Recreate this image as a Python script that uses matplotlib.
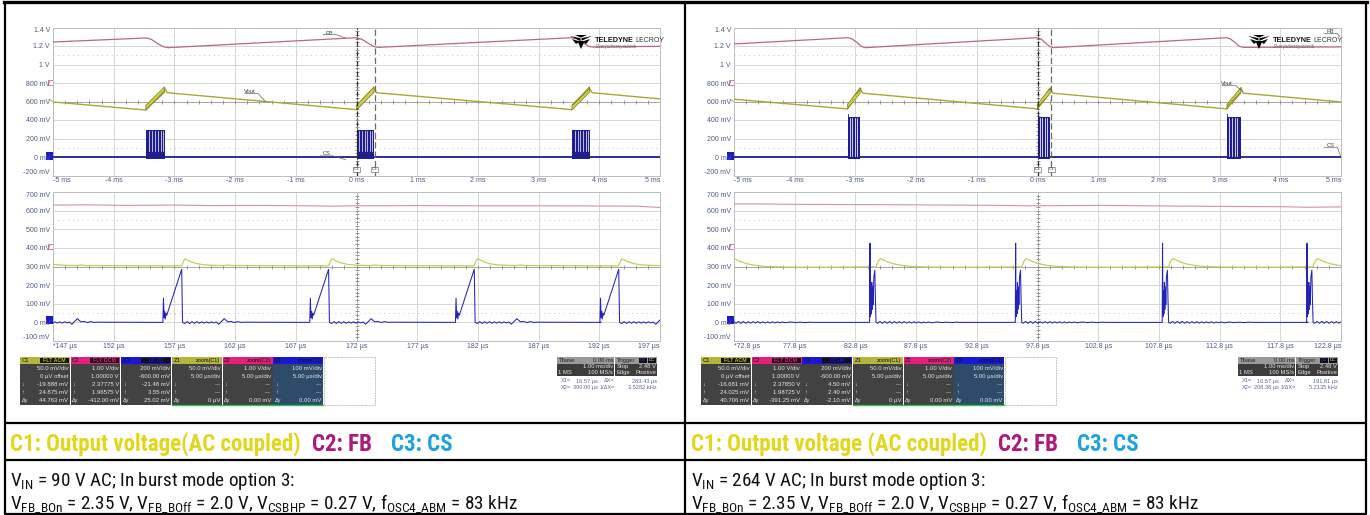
import numpy as np
import matplotlib
matplotlib.use('Agg')
import matplotlib.pyplot as plt
from matplotlib.patches import Rectangle, Polygon
from matplotlib import font_manager as fm

# ================= DATA =================
# --- top (1 ms/div) panels: time in ms, voltage in V (display scale) ---
L_FB_T = [-5.0, -3.46, -3.38, -3.28, -3.18, -3.10, 0.0, 0.08, 0.18, 0.28, 0.36, 3.55, 3.63, 3.73, 3.83, 3.91, 5.0]
L_FB_V = [1.243, 1.287, 1.272, 1.228, 1.192, 1.182, 1.290, 1.275, 1.235, 1.195, 1.185, 1.290, 1.275, 1.235, 1.195, 1.188, 1.197]
L_VO_T = [-5.0, -3.47, -3.16, -3.12, 0.0, 0.29, 0.33, 3.55, 3.84, 3.88, 5.0]
L_VO_V = [0.595, 0.508, 0.745, 0.695, 0.512, 0.745, 0.695, 0.512, 0.745, 0.695, 0.628]
L_BURST_ON = [-3.47, 0.0, 3.55]
L_BURST_OFF = [-3.16, 0.29, 3.84]
L_BAND_LO = [0.508, 0.700]
L_BAND_HI = [0.560, 0.760]
L_CS_TOP = 0.29
L_CS_GAPS = [0.17, 0.33, 0.47, 0.62, 0.78, 0.90]

R_FB_T = [-5.0, -3.12, -3.05, -2.97, -2.90, -2.84, 0.0, 0.06, 0.13, 0.20, 0.26, 3.12, 3.18, 3.26, 3.33, 3.40, 5.0]
R_FB_V = [1.222, 1.290, 1.275, 1.235, 1.195, 1.182, 1.290, 1.275, 1.235, 1.195, 1.182, 1.290, 1.275, 1.235, 1.195, 1.185, 1.190]
R_VO_T = [-5.0, -3.13, -2.92, -2.88, 0.0, 0.21, 0.25, 3.12, 3.35, 3.39, 5.0]
R_VO_V = [0.625, 0.520, 0.745, 0.690, 0.520, 0.745, 0.690, 0.520, 0.750, 0.690, 0.595]
R_BURST_ON = [-3.13, 0.0, 3.12]
R_BURST_OFF = [-2.92, 0.21, 3.35]
R_BAND_LO = [0.520, 0.690]
R_BAND_HI = [0.570, 0.750]
R_CS_TOP = 0.43
R_CS_GAPS = [0.16, 0.36, 0.56, 0.76]

# --- zoom (5 us/div) panels: time in us, voltage in mV ---
L_Z_FB_T = [147, 150, 153, 157, 160, 164, 168, 170, 172, 177, 182, 187, 192, 195, 197]
L_Z_FB_V = [630, 631, 628, 630, 627, 628, 626, 624, 626, 627, 626, 626, 625, 624, 617]
L_Z_START = [144.0, 156.1, 168.2, 180.2, 192.1]
L_CS_TPL_T = [-0.05, 0.00, 0.05, 0.10, 0.15, 0.20, 0.27, 1.50, 1.57, 1.75, 1.95, 2.15, 2.35, 2.55, 2.75, 2.95,
              3.15, 3.35, 3.55, 3.75, 3.95, 4.15, 4.35, 4.55, 4.80, 5.00, 5.30, 5.55, 5.85, 6.10, 6.40, 6.70, 11.95]
L_CS_TPL_V = [0, 130, 25, 60, 18, 50, 38, 285, 0, -6, 4, -6, 4, -5, 4, -5,
              3, -4, 3, -4, 3, -3, 2, -10, 6, 20, 3, 5, -1, 4, 0, 1, 0]
L_VO_TPL_T = [-0.05, 1.50, 1.62, 1.75, 1.95, 2.25, 2.70, 3.30, 4.20, 5.00, 5.30, 5.70, 11.95]
L_VO_TPL_V = [304, 304, 325, 340, 336, 326, 316, 309, 306, 305, 308, 305, 304]

R_Z_FB_T = [72.8, 75, 77, 80, 85, 90, 95, 97, 100, 103, 107, 110, 115, 118, 120, 122.8]
R_Z_FB_V = [636, 636, 634, 633, 632, 630, 628, 626, 627, 628, 626, 624, 622, 621, 618, 620]
R_Z_START = [71.95, 84.0, 96.0, 108.1, 120.0]
R_CS_TPL_T = [-0.03, 0.00, 0.03, 0.07, 0.11, 0.15, 0.19, 0.23, 0.27, 0.32, 0.40, 0.45, 0.50, 0.62, 0.82,
              1.02, 1.22, 1.42, 1.62, 1.82, 2.02, 2.22, 2.42, 2.62, 2.82, 3.02, 3.22, 3.42, 3.62, 3.82,
              4.02, 4.22, 4.42, 4.62, 4.82, 5.10, 5.50, 5.90, 6.30, 6.70, 7.10, 7.50, 8.00, 11.97]
R_CS_TPL_V = [0, 425, 30, 170, 45, 215, 70, 190, 95, 245, 280, 120, 0, -5, 5,
              -5, 5, -5, 5, -5, 4, -4, 4, -4, 4, -4, 3, -3, 3, -3,
              3, -3, 2, -2, 2, -2, 2, -1, 1, -1, 1, 0, 0, 0]
R_VO_TPL_T = [-0.05, 0.50, 0.65, 0.85, 1.05, 1.40, 1.90, 2.60, 3.50, 5.00, 8.00, 11.95]
R_VO_TPL_V = [298, 298, 325, 342, 337, 326, 315, 306, 300, 297, 296, 298]

# --- axis tick labels ---
TOP_X_LABELS = ['-5 ms', '-4 ms', '-3 ms', '-2 ms', '-1 ms', '0 ms', '1 ms', '2 ms', '3 ms', '4 ms', '5 ms']
TOP_Y_LABELS = ['-200 mV', '0 mV', '200 mV', '400 mV', '600 mV', '800 mV', '1 V', '1.2 V', '1.4 V']
ZOOM_Y_LABELS = ['-100 mV', '0 mV', '100 mV', '200 mV', '300 mV', '400 mV', '500 mV', '600 mV', '700 mV']
L_ZOOM_X_LABELS = ['*147 µs', '152 µs', '157 µs', '162 µs', '167 µs', '172 µs', '177 µs', '182 µs', '187 µs', '192 µs', '197 µs']
R_ZOOM_X_LABELS = ['*72.8 µs', '77.8 µs', '82.8 µs', '87.8 µs', '92.8 µs', '97.8 µs', '102.8 µs', '107.8 µs', '112.8 µs', '117.8 µs', '122.8 µs']
L_ZOOM_XLIM = [147, 197]
R_ZOOM_XLIM = [72.8, 122.8]

# --- channel readout boxes ---
BOX_LEFT = ['C1', 'C2', 'C3', 'Z1', 'Z2', 'Z3']
BOX_RIGHT = ['FLT ACM', 'FLT DCM', 'DC1M', 'zoom(C1)', 'zoom(C2)', 'zoom(C3)']
L_BOX_LINES = [['50.0 mV/div', '0 µV offset', '-19.888 mV', '24.875 mV', '44.763 mV'],
               ['1.00 V/div', '1.00000 V', '2.37775 V', '1.96575 V', '-412.00 mV'],
               ['200 mV/div', '-600.00 mV', '-21.48 mV', '3.55 mV', '25.02 mV'],
               ['50.0 mV/div', '5.00 µs/div', '---', '---', '0 µV'],
               ['1.00 V/div', '5.00 µs/div', '---', '---', '0.00 mV'],
               ['100 mV/div', '5.00 µs/div', '---', '---', '0.00 mV']]
R_BOX_LINES = [['50.0 mV/div', '0 µV offset', '-16.681 mV', '24.025 mV', '40.706 mV'],
               ['1.00 V/div', '1.00000 V', '2.37850 V', '1.98725 V', '-391.25 mV'],
               ['200 mV/div', '-600.00 mV', '4.50 mV', '2.40 mV', '-2.10 mV'],
               ['50.0 mV/div', '5.00 µs/div', '---', '---', '0 µV'],
               ['1.00 V/div', '5.00 µs/div', '---', '---', '0.00 mV'],
               ['100 mV/div', '5.00 µs/div', '---', '---', '0.00 mV']]
L_CURSOR = ['16.57 µs', '283.43 µs', '300.00 µs', '3.5282 kHz']
R_CURSOR = ['16.57 µs', '191.81 µs', '208.38 µs', '5.2135 kHz']

CAPTION_L = ['C1: Output voltage(AC coupled)', 'C2: FB', 'C3: CS']
CAPTION_R = ['C1: Output voltage (AC coupled)', 'C2: FB', 'C3: CS']
LINE1_L = r'V$_{\mathrm{IN}}$ = 90 V AC; In burst mode option 3:'
LINE1_R = r'V$_{\mathrm{IN}}$ = 264 V AC; In burst mode option 3:'
LINE2 = (r'V$_{\mathrm{FB\_BOn}}$ = 2.35 V, V$_{\mathrm{FB\_BOff}}$ = 2.0 V, '
         r'V$_{\mathrm{CSBHP}}$ = 0.27 V, f$_{\mathrm{OSC4\_ABM}}$ = 83 kHz')

# ================= STYLE =================
_names = {f.name for f in fm.fontManager.ttflist}
def pick(*cands):
    for c in cands:
        if c in _names:
            return c
    return 'DejaVu Sans'
NARROW = pick('Liberation Sans Narrow', 'Roboto Condensed', 'Open Sans Condensed', 'Lato', 'Roboto')
SCOPE = pick('Liberation Sans', 'Arimo', 'DejaVu Sans')
plt.rcParams['mathtext.fontset'] = 'custom'
plt.rcParams['mathtext.rm'] = NARROW
plt.rcParams['mathtext.it'] = NARROW + ':italic'
plt.rcParams['mathtext.bf'] = NARROW + ':bold'
plt.rcParams['hatch.linewidth'] = 0.6

TICKC = '#4d5a86'
GRIDC = '#d6d6d6'
FB_C = '#b86a7b'
VO_C = '#a8a832'
CS_C = '#1e1e90'
ZFB_C = '#d592a6'
ZVO_C = '#caca55'
ZCS_C = '#2424b8'

W, H = 1370, 515
fig = plt.figure(figsize=(W / 100, H / 100), dpi=100)
ov = fig.add_axes([0, 0, 1, 1])
ov.set_xlim(0, W); ov.set_ylim(H, 0); ov.axis('off')


def prect(x0, y0, x1, y1):
    return [x0 / W, 1 - y1 / H, (x1 - x0) / W, (y1 - y0) / H]


def style_panel(ax, xlim, ylim, nx, ny, xlabels, ylabels):
    ax.set_xlim(xlim); ax.set_ylim(ylim)
    xt = np.linspace(xlim[0], xlim[1], nx + 1)
    yt = np.linspace(ylim[0], ylim[1], ny + 1)
    ax.set_xticks(xt, xlabels)
    ax.set_yticks(yt, ylabels)
    ax.tick_params(length=0, pad=1.4, labelsize=5.0, labelcolor=TICKC, labelfontfamily=SCOPE)
    ax.tick_params(axis='y', pad=2.2)
    xl = ax.get_xticklabels(); xl[0].set_ha('left'); xl[-1].set_ha('right')
    yl = ax.get_yticklabels(); yl[0].set_va('bottom'); yl[-1].set_va('top')
    ax.grid(True, color=GRIDC, lw=0.7)
    ax.set_axisbelow(True)
    for s in ax.spines.values():
        s.set_color('#bdbdbd'); s.set_linewidth(0.7)
    dy = (ylim[1] - ylim[0]) / ny
    dxx = (xlim[1] - xlim[0]) / nx
    for yy in (ylim[0] + 1.5 * dy, ylim[1] - 1.5 * dy):
        ax.axhline(yy, color='#c4c4c4', lw=0.7, ls=(0, (1, 4)), zorder=0.5)
    yc = ylim[0] + ny / 2 * dy
    xc = xlim[0] + nx / 2 * dxx
    ax.axhline(yc, color='#a6a6a6', lw=0.7, zorder=0.6)
    xs = np.arange(xlim[0], xlim[1] + 1e-9, dxx / 5)
    ax.plot(xs, np.full_like(xs, yc), ls='none', marker='|', ms=2.6, mew=0.6, color='#8c8c8c', zorder=0.7)
    ys = np.arange(ylim[0], ylim[1] + 1e-9, dy / 5)
    ax.plot(np.full_like(ys, xc), ys, ls='none', marker='_', ms=2.6, mew=0.6, color='#8c8c8c', zorder=0.7)
    return xc


def cycles(starts, tt, vv):
    t = np.concatenate([s + np.asarray(tt, float) for s in starts])
    v = np.concatenate([np.asarray(vv, float) for _ in starts])
    return t, v


def top_panel(dx, fb_t, fb_v, vo_t, vo_v, on, off, blo, bhi, cs_top, gaps, bars, cur2, labels):
    ax = fig.add_axes(prect(53 + dx, 27.5, 660 + dx, 175.5))
    style_panel(ax, (-5, 5), (-0.2, 1.4), 10, 8, TOP_X_LABELS, TOP_Y_LABELS)
    ax.plot(fb_t, fb_v, color=FB_C, lw=0.9, zorder=3)
    ax.plot(vo_t, vo_v, color=VO_C, lw=1.0, zorder=3)
    for a, b in zip(on, off):
        ax.fill([a, b, b, a], [blo[0], blo[1], bhi[1], bhi[0]], fc='#cfcf4a', ec='#7f7f1c',
                hatch='//////', lw=0.5, zorder=3.5)
    ax.axhline(0, color=CS_C, lw=1.3, zorder=4)
    for a, b in zip(on, off):
        ax.fill_between([a, b], [-0.02, -0.02], [cs_top, cs_top], color=CS_C, lw=0, zorder=4)
        if bars:
            for g in gaps:
                ax.plot([a + g * (b - a)] * 2, [0.01, cs_top - 0.005], color='white', lw=0.55, zorder=4.5)
            ax.plot([a, a], [0, cs_top + 0.03], color=CS_C, lw=0.6, zorder=4.6)
        else:
            for g in gaps:
                ax.plot([a + g * (b - a)] * 2, [0.06, cs_top - 0.01], color='white', lw=0.5, zorder=4.5)
    # cursors
    ax.axvline(0, color='#2a2a2a', lw=0.9, ls=(0, (4, 1.5, 1, 1.5)), zorder=6)
    ax.axvline(cur2, color='#6a6a6a', lw=0.9, ls=(0, (5, 2.5)), zorder=6)
    for xc_ in (0, cur2):
        ax.text(xc_, -0.135, 'C3', fontsize=3.2, family=SCOPE, color='#333', ha='center', va='center',
                zorder=7, bbox=dict(boxstyle='square,pad=0.15', fc='white', ec='#555', lw=0.4))
    # trace labels with leader lines
    for (txt, tx, ty, lx0, ly0, lx1, ly1) in labels:
        ax.text(tx, ty, txt, fontsize=4.2, family=SCOPE, color='#444', ha='center', va='bottom', zorder=7)
        ax.plot([lx0 - 0.22, lx0, lx1], [ly0, ly0, ly1], color='#666', lw=0.5, zorder=7)
    return ax


def zoom_panel(dx, xlim, xlabels, fb_t, fb_v, starts, vo_tt, vo_vv, cs_tt, cs_vv):
    ax = fig.add_axes(prect(53 + dx, 192, 660 + dx, 341))
    xc = style_panel(ax, xlim, (-100, 700), 10, 8, xlabels, ZOOM_Y_LABELS)
    ax.axvline(xc, color='#7a7a7a', lw=0.7, ls=(0, (1, 1.5)), zorder=0.8)
    ax.plot(fb_t, fb_v, color=ZFB_C, lw=0.8, zorder=3)
    t, v = cycles(starts, vo_tt, vo_vv)
    ax.plot(t, v, color=ZVO_C, lw=0.9, zorder=3)
    t, v = cycles(starts, cs_tt, cs_vv)
    ax.plot(t, v, color=ZCS_C, lw=0.75, zorder=4)
    return ax


def logo(x, y):
    fig_ax = ov2
    shapes = [[(x, y + 1), (x + 10.5, y + 3.2), (x + 10.5, y + 5.8)],
              [(x + 22, y + 1), (x + 11.5, y + 3.2), (x + 11.5, y + 5.8)],
              [(x + 5, y), (x + 17, y), (x + 11, y + 2.6)],
              [(x + 7.5, y + 6), (x + 14.5, y + 6), (x + 11, y + 14)],
              [(x + 2, y + 4), (x + 9.5, y + 6.5), (x + 6, y + 9)],
              [(x + 20, y + 4), (x + 12.5, y + 6.5), (x + 16, y + 9)]]
    for s in shapes:
        fig_ax.add_patch(Polygon(s, closed=True, fc='black', ec='none'))
    t = fig_ax.text(x + 25, y + 5.5, 'TELEDYNE', fontsize=5.2, fontweight='bold', family=SCOPE, va='center', color='#111')
    bb = t.get_window_extent(renderer)
    x2 = fig_ax.transData.inverted().transform((bb.x1, bb.y0))[0]
    fig_ax.text(x2 + 1.5, y + 5.5, 'LECROY', fontsize=5.0, family=SCOPE, va='center', color='#333')
    fig_ax.text(x + 26, y + 11.5, 'Everywhereyoulook', fontsize=3.3, family=SCOPE, va='center', color='#666')


def boxes(x0, lines):
    bw = 50.7; yt, yh, yb = 357, 364, 405
    hdr = ['#b5b53b', '#e4207c', '#1717d4', '#b5b53b', '#e4207c', '#1717d4']
    body = ['#424242'] * 5 + ['#2e4b69']
    syms = ['', '', '↓', '↑', 'Δy']
    for i in range(6):
        xa = x0 + i * bw; xb = xa + bw - 0.9
        ov.add_patch(Rectangle((xa, yt), xb - xa, yh - yt, fc=hdr[i], ec='none'))
        ov.add_patch(Rectangle((xa, yh), xb - xa, yb - yh, fc=body[i], ec='none'))
        ov.text(xa + 1.5, (yt + yh) / 2 + 0.3, BOX_LEFT[i], fontsize=4.2, family=SCOPE,
                color='#111' if i != 2 else '#0a0a50', va='center')
        if i < 3:
            ov.add_patch(Rectangle((xb - 30, yt + 0.6), 29, yh - yt - 1.2, fc='#111', ec='none'))
            ov.text(xb - 15.5, (yt + yh) / 2 + 0.3, BOX_RIGHT[i], fontsize=3.8, family=SCOPE,
                    color=hdr[i], va='center', ha='center', fontweight='bold')
        else:
            ov.text(xb - 1.5, (yt + yh) / 2 + 0.3, BOX_RIGHT[i], fontsize=4.0, family=SCOPE,
                    color='#111', va='center', ha='right')
            ov.plot([xa, xb], [yb - 0.4, yb - 0.4], color='#2ec050', lw=1.0)
        for k, s in enumerate(lines[i]):
            yy = 368.6 + 7.9 * k
            ov.text(xb - 1.5, yy, s, fontsize=4.3, family=[SCOPE, 'DejaVu Sans'], color='#e4e4e4', ha='right', va='center')
            if syms[k]:
                ov.text(xa + 1.5, yy, syms[k], fontsize=4.0, family=[SCOPE, 'DejaVu Sans'], color='#e4e4e4', ha='left', va='center')
    xa = x0 + 6 * bw
    ov.add_patch(Rectangle((xa, yt), bw, yb - yt, fill=False, ec='#9c9c9c', ls=(0, (1, 1)), lw=0.6))


def tbase(x0, cur):
    yt, yh, yb = 357, 363.5, 375.5
    fs = 4.2
    ov.add_patch(Rectangle((x0 + 557, yt), 57.5, yh - yt, fc='#9a9a9a', ec='none'))
    ov.add_patch(Rectangle((x0 + 557, yh), 57.5, yb - yh, fc='#3c3c3c', ec='none'))
    ov.add_patch(Rectangle((x0 + 615.5, yt), 42, yh - yt, fc='#9a9a9a', ec='none'))
    ov.add_patch(Rectangle((x0 + 615.5, yh), 42, yb - yh, fc='#3c3c3c', ec='none'))
    kw = dict(fontsize=fs, family=SCOPE, va='center')
    ov.text(x0 + 558.5, 360.4, 'Tbase', color='#222', **kw)
    ov.text(x0 + 613.5, 360.4, '0.00 ms', color='#222', ha='right', **kw)
    ov.text(x0 + 613.5, 366.8, '1.00 ms/div', color='#e4e4e4', ha='right', **kw)
    ov.text(x0 + 558.5, 372.4, '1 MS', color='#e4e4e4', **kw)
    ov.text(x0 + 613.5, 372.4, '100 MS/s', color='#e4e4e4', ha='right', **kw)
    ov.text(x0 + 617, 360.4, 'Trigger', color='#222', **kw)
    ov.add_patch(Rectangle((x0 + 639, yt + 0.7), 8, 5, fc='#111', ec='none'))
    ov.add_patch(Rectangle((x0 + 648, yt + 0.7), 8.5, 5, fc='#111', ec='none'))
    ov.text(x0 + 643, 360.3, 'C3', color='#3a3ae0', ha='center', fontsize=3.2, family=SCOPE, va='center')
    ov.text(x0 + 652.3, 360.3, 'DC', color='#ddd', ha='center', fontsize=3.2, family=SCOPE, va='center')
    ov.text(x0 + 617, 366.8, 'Stop', color='#e4e4e4', **kw)
    ov.text(x0 + 656, 366.8, '2.48 V', color='#e4e4e4', ha='right', **kw)
    ov.text(x0 + 617, 372.4, 'Edge', color='#e4e4e4', **kw)
    ov.text(x0 + 656, 372.4, 'Positive', color='#e4e4e4', ha='right', **kw)
    ck = dict(fontsize=4.1, family=[SCOPE, 'DejaVu Sans'], va='center', color='#5a6898')
    ov.text(x0 + 561, 381, 'X1=', **ck)
    ov.text(x0 + 598, 381, cur[0], ha='right', **ck)
    ov.text(x0 + 604, 381, 'ΔX=', **ck)
    ov.text(x0 + 657, 381, cur[1], ha='right', **ck)
    ov.text(x0 + 561, 387.5, 'X2=', **ck)
    ov.text(x0 + 598, 387.5, cur[2], ha='right', **ck)
    ov.text(x0 + 600, 387.5, '1/ΔX=', **ck)
    ov.text(x0 + 657, 387.5, cur[3], ha='right', **ck)


renderer = fig.canvas.get_renderer()

# ---- table frame ----
lk = dict(color='black', lw=1.6, solid_capstyle='butt')
ov.plot([4, 1367], [2.2, 2.2], color='black', lw=2.4)
ov.plot([5, 5], [1, 514], **lk)
ov.plot([1366, 1366], [1, 514], **lk)
ov.plot([685, 685], [1, 514], **lk)
ov.plot([4, 1367], [423, 423], **lk)
ov.plot([4, 1367], [460, 460], **lk)
ov.plot([4, 1367], [513.5, 513.5], **lk)

# ---- scope side markers (ground / offset markers) ----
for dx in (0, 681):
    ov.add_patch(Rectangle((46 + dx, 151.5), 7, 8, fc='#1a1ad0', ec='none'))
    ov.add_patch(Rectangle((46.5 + dx, 316), 7, 7.5, fc='#1a1ad0', ec='none'))
    ov.add_patch(Rectangle((48 + dx, 79.5), 5, 5, fill=False, ec='#d04080', lw=0.5))
    ov.add_patch(Rectangle((48 + dx, 243.5), 5, 5, fill=False, ec='#d04080', lw=0.5))
    ov.plot([49 + dx, 53 + dx], [99.5, 101.5], color='#999', lw=0.6)

L_LABELS = [('FB', -0.45, 1.31, -0.33, 1.322, -0.18, 1.285),
            ('Vout', -1.76, 0.68, -1.62, 0.685, -1.50, 0.60),
            ('CS', -0.49, 0.01, -0.38, 0.012, -0.18, -0.03)]
R_LABELS = [('Vout', 3.12, 0.77, 3.26, 0.775, 3.38, 0.705),
            ('FB', 4.83, 1.33, 4.94, 1.335, 4.98, 1.30),
            ('CS', 4.83, 0.10, 4.94, 0.105, 5.0, 0.0)]

top_panel(0, L_FB_T, L_FB_V, L_VO_T, L_VO_V, L_BURST_ON, L_BURST_OFF, L_BAND_LO, L_BAND_HI,
          L_CS_TOP, L_CS_GAPS, False, 0.30, L_LABELS)
top_panel(681, R_FB_T, R_FB_V, R_VO_T, R_VO_V, R_BURST_ON, R_BURST_OFF, R_BAND_LO, R_BAND_HI,
          R_CS_TOP, R_CS_GAPS, True, 0.23, R_LABELS)
zoom_panel(0, L_ZOOM_XLIM, L_ZOOM_X_LABELS, L_Z_FB_T, L_Z_FB_V, L_Z_START,
           L_VO_TPL_T, L_VO_TPL_V, L_CS_TPL_T, L_CS_TPL_V)
zoom_panel(681, R_ZOOM_XLIM, R_ZOOM_X_LABELS, R_Z_FB_T, R_Z_FB_V, R_Z_START,
           R_VO_TPL_T, R_VO_TPL_V, R_CS_TPL_T, R_CS_TPL_V)

ov2 = fig.add_axes([0, 0, 1, 1], facecolor='none')
ov2.set_xlim(0, W); ov2.set_ylim(H, 0); ov2.axis('off')
logo(570, 35)
logo(1248, 35)

boxes(20, L_BOX_LINES)
boxes(701, R_BOX_LINES)
tbase(0, L_CURSOR)
tbase(681, R_CURSOR)

# ---- captions ----
CAP_COLS = ['#e2d61e', '#ab1a7e', '#1ea3dc']
CAP_GAPS = [11, 19, 0]


def seq(ax, x, y, pieces, cols, gaps, **kw):
    for txt, c, g in zip(pieces, cols, gaps):
        t = ax.text(x, y, txt, color=c, **kw)
        bb = t.get_window_extent(renderer)
        x = ax.transData.inverted().transform((bb.x1, bb.y0))[0] + g


capkw = dict(fontsize=16.6, fontweight='bold', family=NARROW, va='baseline')
seq(ov, 10, 451, CAPTION_L, CAP_COLS, CAP_GAPS, **capkw)
seq(ov, 691, 451, CAPTION_R, CAP_COLS, CAP_GAPS, **capkw)
bodykw = dict(fontsize=13.8, family=NARROW, va='baseline', color='#111')
ov.text(10, 486.5, LINE1_L, **bodykw)
ov.text(10, 509.5, LINE2, **bodykw)
ov.text(691, 486.5, LINE1_R, **bodykw)
ov.text(691, 509.5, LINE2, **bodykw)

fig.savefig('out.png', dpi=100)
